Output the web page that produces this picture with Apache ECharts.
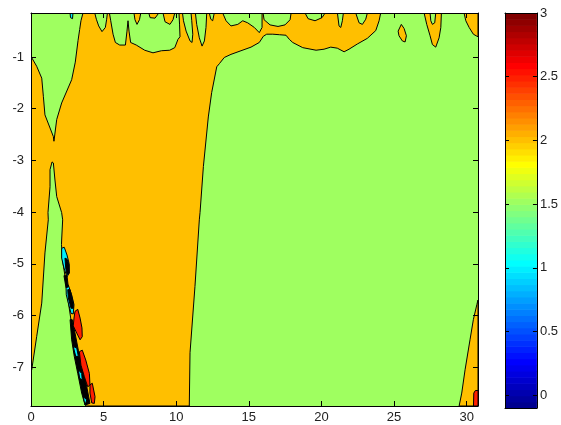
<!DOCTYPE html>
<html>
<head>
<meta charset="utf-8">
<script src="https://cdn.jsdelivr.net/npm/echarts@6/dist/echarts.min.js"></script>
<style>
  html, body { margin: 0; padding: 0; background: #fff; }
  #chart { width: 561px; height: 425px; }
</style>
</head>
<body>
<div id="chart"></div>
<script>
// Axis extents and tick labels
const xRange = [0, 30.78];
const yRange = [-7.75, -0.15];
const colorRange = [-0.1, 3];
const xTicks = [0, 5, 10, 15, 20, 25, 30];
const yTicks = [-7, -6, -5, -4, -3, -2, -1];
const colorTicks = [0, 0.5, 1, 1.5, 2, 2.5, 3];

// Contour levels used for the filled bands
const levels = [0, 0.5, 1, 1.5, 2, 2.5, 3];

// Filled contour regions, outlines in data units (x, y)
const fieldBase = [[0, -7.75], [30.78, -7.75], [30.78, -0.15], [0, -0.15]];

const mainBand = [
  [3.58, -0.15], [24.08, -0.15], [23.97, -0.30], [23.74, -0.49], [23.16, -0.64], [22.47, -0.75],
  [21.90, -0.85], [21.56, -0.90], [21.09, -0.83], [20.64, -0.81], [20.18, -0.85], [19.63, -0.87],
  [18.71, -0.82], [18.02, -0.72], [17.79, -0.66], [17.56, -0.58], [17.10, -0.57], [16.65, -0.56],
  [16.23, -0.56], [16.00, -0.60], [15.72, -0.72], [15.15, -0.81], [14.46, -0.88], [13.77, -0.95],
  [13.31, -1.01], [12.97, -1.13], [12.79, -1.19], [12.44, -1.69], [12.21, -2.16], [11.87, -3.12],
  [11.64, -4.01], [11.59, -4.15], [11.29, -5.44], [10.95, -6.72], [10.90, -7.75],
  [3.77, -7.75], [3.60, -7.38], [3.26, -6.86], [2.91, -6.41], [2.75, -6.08], [2.55, -5.70],
  [2.38, -5.31], [2.17, -4.93], [2.10, -4.63], [2.11, -4.54], [2.18, -4.15], [2.11, -4.01],
  [1.77, -3.70], [1.65, -3.38], [1.54, -3.05], [1.45, -3.03], [1.31, -3.18], [1.31, -3.51],
  [1.17, -4.01], [1.19, -4.15], [0.96, -4.79], [0.74, -5.76], [0.39, -6.41], [0.05, -7.05],
  [0, -7.07], [0, -0.99], [0.39, -1.18], [0.74, -1.41], [0.85, -1.76], [0.96, -2.12],
  [1.54, -2.54], [1.58, -2.63], [1.77, -2.21], [2.11, -1.89], [2.80, -1.44], [3.05, -1.10],
  [3.24, -0.68], [3.35, -0.47], [3.44, -0.30]
];

// Low lobes hanging from the top edge
const lobeA = [
  [4.39, -0.15], [4.50, -0.27], [4.66, -0.40], [4.89, -0.51], [5.12, -0.43], [5.21, -0.27],
  [5.26, -0.15], [5.40, -0.15], [5.49, -0.30], [5.65, -0.56], [5.81, -0.72], [6.11, -0.77],
  [6.50, -0.77], [6.61, -0.50], [6.68, -0.30], [6.75, -0.50], [6.86, -0.72], [7.25, -0.77],
  [7.83, -0.87], [8.40, -0.92], [8.98, -0.88], [9.55, -0.87], [9.90, -0.82], [10.12, -0.66],
  [10.26, -0.61], [10.23, -0.38], [10.19, -0.15]
];
const lobeB = [[10.43, -0.15], [10.50, -0.30], [10.68, -0.50], [10.95, -0.69], [11.09, -0.72], [11.14, -0.56], [11.07, -0.30], [11.02, -0.15]];
const lobeC = [[11.32, -0.15], [11.41, -0.37], [11.59, -0.63], [11.78, -0.79], [11.94, -0.69], [12.05, -0.43], [12.10, -0.15]];
const lobeD = [[12.28, -0.15], [12.38, -0.27], [12.51, -0.30], [12.62, -0.15]];
const lobeE = [[13.20, -0.15], [13.43, -0.30], [13.77, -0.40], [14.24, -0.37], [14.58, -0.30], [14.92, -0.34], [15.38, -0.43], [15.72, -0.53], [15.91, -0.43], [15.91, -0.15]];
const lobeF = [[15.98, -0.15], [16.05, -0.28], [16.46, -0.38], [17.01, -0.41], [17.49, -0.38], [17.84, -0.28], [17.91, -0.15]];
const lobeG = [[18.87, -0.15], [19.08, -0.26], [19.56, -0.30], [20.04, -0.24], [20.25, -0.15]];
const lobeH = [[21.10, -0.15], [21.21, -0.40], [21.33, -0.43], [21.44, -0.30], [21.51, -0.15]];
const lobeI = [[22.36, -0.15], [22.59, -0.34], [22.82, -0.37], [23.05, -0.27], [23.16, -0.15]];

// High fingers reaching the top edge
const fingerA = [[7.09, -0.15], [7.16, -0.28], [7.30, -0.37], [7.47, -0.28], [7.56, -0.15]];
const fingerB = [[8.11, -0.15], [8.20, -0.24], [8.54, -0.25], [8.80, -0.15]];
const fingerC = [[9.09, -0.15], [9.23, -0.32], [9.57, -0.37], [9.78, -0.28], [9.90, -0.15]];
const islandA = [[25.50, -0.37], [25.69, -0.45], [25.85, -0.59], [25.76, -0.71], [25.57, -0.69], [25.34, -0.59], [25.28, -0.50]];
const fingerD = [[27.07, -0.15], [27.25, -0.37], [27.48, -0.59], [27.64, -0.76], [27.87, -0.81], [28.10, -0.63], [28.22, -0.43], [28.26, -0.15], [27.87, -0.15], [27.80, -0.34], [27.64, -0.37], [27.53, -0.30], [27.48, -0.15]];
const fingerE = [[29.82, -0.15], [29.94, -0.30], [30.17, -0.43], [30.46, -0.56], [30.65, -0.59], [30.78, -0.61], [30.78, -0.15]];

// Lower right corner
const cornerBand = [[30.78, -5.70], [30.70, -5.79], [30.46, -6.08], [30.23, -6.47], [29.89, -7.05], [29.66, -7.50], [29.48, -7.75], [30.78, -7.75]];
const cornerPeak = [[30.47, -7.75], [30.49, -7.50], [30.60, -7.45], [30.78, -7.45], [30.78, -7.75]];

// Steep gradient strip along the lower left wedge
const troughA = [[2.11, -4.70], [2.29, -4.68], [2.48, -4.83], [2.62, -4.99], [2.64, -5.18], [2.48, -5.25], [2.27, -5.08], [2.11, -4.89]];
const troughB = [[2.41, -5.44], [2.57, -5.41], [2.80, -5.60], [2.96, -5.79], [2.91, -5.97], [2.76, -5.96], [2.57, -5.76], [2.43, -5.60]];
const troughTop = [[2.69, -0.15], [2.89, -0.15], [2.86, -0.26], [2.72, -0.24]];
const troughC = [[2.91, -6.60], [3.15, -6.63], [3.26, -6.79], [3.08, -6.79]];
const troughD = [[3.26, -7.05], [3.49, -7.12], [3.53, -7.25], [3.35, -7.21]];
const troughE = [[3.60, -7.57], [3.84, -7.63], [3.72, -7.73]];
const packedA = [[2.34, -4.89], [2.48, -4.91], [2.62, -5.02], [2.62, -5.18], [2.48, -5.21], [2.39, -5.08]];
const packedB = [[2.53, -5.50], [2.69, -5.50], [2.91, -5.76], [2.91, -5.86], [2.76, -5.86], [2.57, -5.66]];
const packedC = [[2.27, -5.23], [2.48, -5.23], [2.57, -5.45], [2.41, -5.46]];
const packedD = [[2.69, -6.08], [2.84, -6.08], [3.03, -6.34], [3.26, -6.67], [3.53, -6.99], [3.84, -7.38], [4.06, -7.70], [3.72, -7.73], [3.49, -7.50], [3.22, -7.12], [2.98, -6.79], [2.80, -6.47]];
const ridgeA = [[3.03, -5.92], [3.22, -5.88], [3.38, -6.05], [3.51, -6.24], [3.53, -6.41], [3.38, -6.47], [3.15, -6.34], [2.91, -6.20], [2.96, -6.05]];
const ridgeB = [[3.33, -6.70], [3.53, -6.67], [3.77, -6.86], [4.02, -7.12], [4.06, -7.34], [3.91, -7.38], [3.67, -7.18], [3.44, -6.96]];
const ridgeC = [[4.06, -7.34], [4.22, -7.31], [4.41, -7.57], [4.36, -7.70], [4.18, -7.69], [4.06, -7.50]];

// Drawing order: [level or null for tightly packed lines, outline]
const regions = [
  [1.5, fieldBase, false],
  [2, mainBand, true],
  [1.5, lobeA, true], [1.5, lobeB, true], [1.5, lobeC, true], [1.5, lobeD, true], [1.5, lobeE, true],
  [1.5, lobeF, true], [1.5, lobeG, true], [1.5, lobeH, true], [1.5, lobeI, true],
  [2, fingerA, true], [2, fingerB, true], [2, fingerC, true], [2, islandA, true], [2, fingerD, true], [2, fingerE, true],
  [2, cornerBand, true], [2.5, cornerPeak, true],
  [1, troughA, true], [1, troughB, true], [1, troughTop, true],
  [null, packedA, true], [null, packedB, true], [null, packedC, true], [null, packedD, true],
  [2.5, ridgeA, true], [2.5, ridgeB, true], [2.5, ridgeC, true],
  [1, troughC, true], [1, troughD, true], [1, troughE, true]
];

// 64-entry jet colormap
const jet = (function () {
  const n = 64, m = 16, u = [];
  for (let i = 1; i <= m; i++) u.push(i / m);
  for (let i = 0; i < m - 1; i++) u.push(1);
  for (let i = m; i >= 1; i--) u.push(i / m);
  const J = Array.from({ length: n }, () => [0, 0, 0]);
  const g0 = Math.ceil(m / 2);
  for (let k = 0; k < u.length; k++) {
    const g = g0 + k + 1, r = g + m, b = g - m;
    if (r >= 1 && r <= n) J[r - 1][0] = u[k];
    if (g >= 1 && g <= n) J[g - 1][1] = u[k];
    if (b >= 1 && b <= n) J[b - 1][2] = u[k];
  }
  return J.map(c => 'rgb(' + c.map(v => Math.round(v * 255)).join(',') + ')');
})();

function levelColor(v) {
  const t = (v - colorRange[0]) / (colorRange[1] - colorRange[0]);
  const idx = Math.max(0, Math.min(63, Math.floor(t * 64)));
  return jet[idx];
}

const FONT = 'Liberation Sans, Arial, sans-serif';
const labelColor = '#222';

function frameAxis(gridIndex, pos, range, ticks, showLabels, kind) {
  const ax = {
    type: 'value', gridIndex: gridIndex, position: pos, min: range[0], max: range[1], z: 10,
    axisLine: { show: true, onZero: false, lineStyle: { color: '#000', width: 1 } },
    axisTick: ticks ? { show: true, inside: true, length: kind === 'bar' ? 4 : 5, customValues: ticks, lineStyle: { color: '#000', width: 1 } } : { show: false },
    axisLabel: showLabels ? {
      show: true, customValues: ticks, color: labelColor, fontSize: 13, fontFamily: FONT,
      margin: kind === 'x' ? 5 : (kind === 'bar' ? 3 : 7)
    } : { show: false },
    splitLine: { show: false }
  };
  return ax;
}

const chart = echarts.init(document.getElementById('chart'), null, { renderer: 'canvas' });

chart.setOption({
  animation: false,
  backgroundColor: '#fff',
  grid: [
    { left: 31, top: 13, width: 447, height: 393 },
    { left: 505, top: 13, width: 33, height: 395 }
  ],
  xAxis: [
    frameAxis(0, 'bottom', xRange, xTicks, true, 'x'),
    frameAxis(0, 'top', xRange, xTicks, false, 'x'),
    frameAxis(1, 'bottom', [0, 1], null, false, 'bar'),
    frameAxis(1, 'top', [0, 1], null, false, 'bar')
  ],
  yAxis: [
    frameAxis(0, 'left', yRange, yTicks, true, 'y'),
    frameAxis(0, 'right', yRange, yTicks, false, 'y'),
    frameAxis(1, 'left', colorRange, colorTicks, false, 'bar'),
    frameAxis(1, 'right', colorRange, colorTicks, true, 'bar')
  ],
  series: [
    {
      type: 'custom', coordinateSystem: 'cartesian2d', xAxisIndex: 0, yAxisIndex: 0,
      clip: true, silent: true,
      data: regions.map((r, i) => i),
      renderItem: function (params, api) {
        const r = regions[params.dataIndex];
        const pts = r[1].map(p => api.coord(p));
        return {
          type: 'polygon',
          shape: { points: pts },
          style: {
            fill: r[0] === null ? '#000' : levelColor(r[0]),
            stroke: r[2] ? '#000' : null,
            lineWidth: 1,
            lineJoin: 'round'
          }
        };
      }
    },
    {
      type: 'custom', coordinateSystem: 'cartesian2d', xAxisIndex: 2, yAxisIndex: 2,
      clip: true, silent: true,
      data: jet.map((c, i) => i),
      renderItem: function (params, api) {
        const i = params.dataIndex;
        const step = (colorRange[1] - colorRange[0]) / 64;
        const lo = colorRange[0] + i * step, hi = lo + step;
        const p0 = api.coord([0, lo]), p1 = api.coord([1, hi]);
        return {
          type: 'rect',
          shape: { x: p0[0], y: p1[1], width: p1[0] - p0[0], height: p0[1] - p1[1] + 0.6 },
          style: { fill: jet[i] }
        };
      }
    }
  ]
});
</script>
</body>
</html>
